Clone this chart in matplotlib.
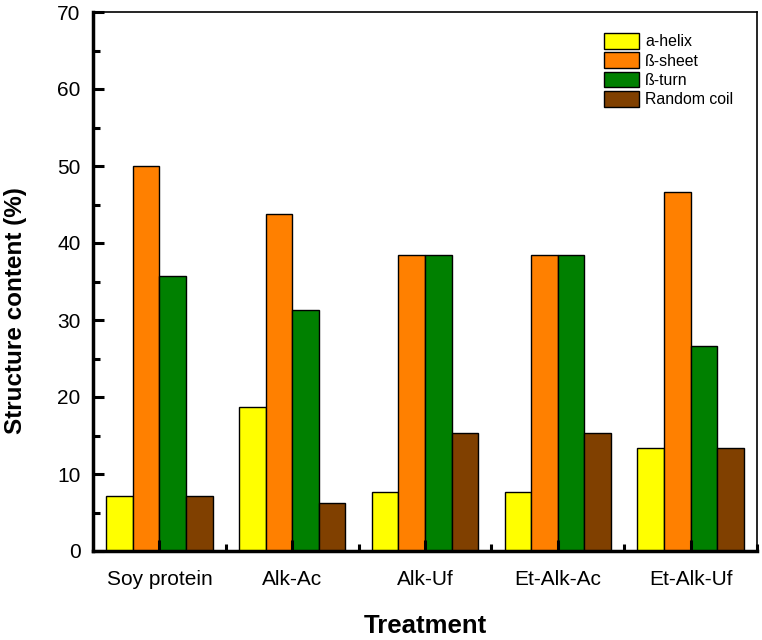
import matplotlib
matplotlib.use('Agg')
import matplotlib.pyplot as plt
from matplotlib.ticker import MultipleLocator, FixedLocator
import numpy as np

plt.rcParams['font.family'] = ['Liberation Sans', 'DejaVu Sans']

treatments = ['Soy protein', 'Alk-Ac', 'Alk-Uf', 'Et-Alk-Ac', 'Et-Alk-Uf']
series = ['a-helix', 'ß-sheet', 'ß-turn', 'Random coil']
a_helix = [7.1, 18.75, 7.69, 7.69, 13.33]
b_sheet = [50.0, 43.75, 38.46, 38.46, 46.67]
b_turn = [35.71, 31.25, 38.46, 38.46, 26.67]
random_coil = [7.14, 6.25, 15.38, 15.38, 13.33]
colors = ['#FFFF00', '#FF8000', '#008000', '#804000']

fig = plt.figure(figsize=(7.62, 6.4), dpi=100)
ax = fig.add_axes([93 / 762, 1 - 551 / 640, (757 - 93) / 762, (551 - 12) / 640])

x = np.arange(1, len(treatments) + 1)
width = 0.2
for i, (vals, name) in enumerate(zip([a_helix, b_sheet, b_turn, random_coil], series)):
    ax.bar(x + (i - 1.5) * width, vals, width, color=colors[i], edgecolor='black',
           linewidth=1, label=name)

ax.set_xlim(0.5, 5.5)
ax.set_ylim(0, 70)
ax.set_xticks(x)
ax.set_xticklabels(treatments)
ax.xaxis.set_minor_locator(FixedLocator(np.arange(1.5, 5.6, 1)))
ax.yaxis.set_major_locator(MultipleLocator(10))
ax.yaxis.set_minor_locator(MultipleLocator(5))

ax.tick_params(which='both', direction='in', width=2.2, top=False, right=False, labelsize=15)
ax.tick_params(which='major', length=8)
ax.tick_params(which='minor', length=5)
ax.tick_params(axis='x', which='major', pad=14)
ax.tick_params(axis='y', which='major', pad=9)

for s in ['left', 'bottom']:
    ax.spines[s].set_linewidth(2.5)
for s in ['top', 'right']:
    ax.spines[s].set_linewidth(1.2)

ax.set_xlabel('Treatment', fontsize=18.5, fontweight='bold', labelpad=18)
ax.set_ylabel('Structure content (%)', fontsize=17.5, fontweight='bold')
ax.yaxis.set_label_coords(-0.100, 0.447)

ax.legend(loc='upper left', bbox_to_anchor=(604 / 762, 1 - 33 / 640),
          bbox_transform=fig.transFigure, frameon=False, fontsize=11.4,
          handlelength=2.2, handleheight=1.15, labelspacing=0.2,
          handletextpad=0.4, borderaxespad=0, borderpad=0)

fig.savefig('out.png', dpi=100)
